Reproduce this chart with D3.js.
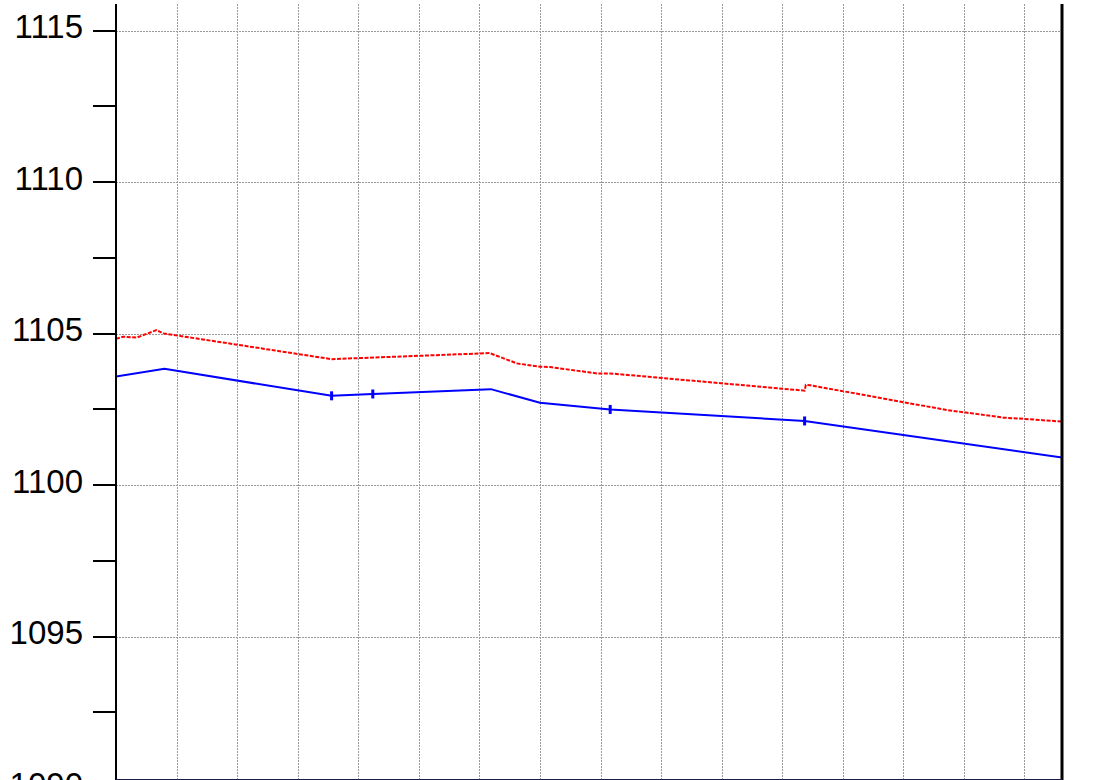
<!DOCTYPE html>
<html>
<head>
<meta charset="utf-8">
<script src="https://cdn.jsdelivr.net/npm/d3@7"></script>
<style>
  html, body { margin: 0; padding: 0; background: #fff; overflow: hidden; }
  svg { display: block; font-family: "Liberation Sans", Arial, sans-serif; }
</style>
</head>
<body>
<div id="chart"></div>
<script>
// values
const blueX = [0, 0.80, 3.56, 4.24, 6.19, 7.00, 8.16, 11.37, 15.62];
const blueY = [1103.59, 1103.84, 1102.95, 1103.01, 1103.17, 1102.72, 1102.50, 1102.12, 1100.91];
const blueMarks = [2, 3, 6, 7]; // indices with the small vertical bars

const redX = [0, 0.12, 0.34, 0.67, 0.78, 3.56, 6.17, 6.62, 7.00, 7.17, 7.94, 8.16, 11.37, 11.39, 11.46, 13.00, 13.72, 13.99, 14.65, 14.98, 15.62];
const redY = [1104.83, 1104.90, 1104.87, 1105.12, 1105.01, 1104.16, 1104.36, 1104.02, 1103.91, 1103.90, 1103.69, 1103.69, 1103.12, 1103.31, 1103.30, 1102.74, 1102.48, 1102.41, 1102.23, 1102.19, 1102.10];

const yMajor = [1090, 1095, 1100, 1105, 1110, 1115];
const yMinor = [1092.5, 1097.5, 1102.5, 1107.5, 1112.5];
const xGrid = d3.range(1, 16);

const width = 1113;
const height = 780;
const plot = {left: 116, right: 1062, top: 4, bottom: 780};

const svg = d3.select("#chart").append("svg")
  .attr("width", width)
  .attr("height", height);

const x = d3.scaleLinear([0, 15.62], [plot.left, plot.right]);
const y = d3.scaleLinear([1090, 1115], [788.2, 30.7]);

svg.append("defs").append("clipPath").attr("id", "clip")
  .append("rect")
  .attr("x", plot.left).attr("y", plot.top)
  .attr("width", plot.right - plot.left).attr("height", plot.bottom - plot.top);

// grid
const grid = svg.append("g").attr("clip-path", "url(#clip)")
  .attr("stroke", "#9a9a9a")
  .attr("stroke-width", 1)
  .attr("stroke-dasharray", "2,1");

grid.selectAll("line.v")
  .data(xGrid)
  .join("line")
  .attr("class", "v")
  .attr("x1", d => Math.round(x(d)) + 0.5).attr("x2", d => Math.round(x(d)) + 0.5)
  .attr("y1", plot.top).attr("y2", plot.bottom);

grid.selectAll("line.h")
  .data(yMajor)
  .join("line")
  .attr("class", "h")
  .attr("x1", plot.left).attr("x2", plot.right)
  .attr("y1", d => Math.round(y(d)) + 0.5).attr("y2", d => Math.round(y(d)) + 0.5);

// series
const lines = svg.append("g").attr("clip-path", "url(#clip)");

const redData = redX.map((d, i) => [d, redY[i]]);
const blueData = blueX.map((d, i) => [d, blueY[i]]);
const line = d3.line().x(d => x(d[0])).y(d => y(d[1]));

lines.append("path")
  .attr("d", line(redData))
  .attr("fill", "none")
  .attr("stroke", "#ff0000")
  .attr("stroke-width", 2)
  .attr("stroke-dasharray", "4,1.5");

lines.append("path")
  .attr("d", line(blueData))
  .attr("fill", "none")
  .attr("stroke", "#0000ff")
  .attr("stroke-width", 2);

lines.selectAll("rect.mark")
  .data(blueMarks)
  .join("rect")
  .attr("class", "mark")
  .attr("x", i => x(blueX[i]) - 1.5)
  .attr("y", i => y(blueY[i]) - 4.5)
  .attr("width", 3)
  .attr("height", 9)
  .attr("fill", "#0000ff");

// frame
svg.append("line")
  .attr("x1", plot.left).attr("x2", plot.left)
  .attr("y1", plot.top).attr("y2", plot.bottom)
  .attr("stroke", "#000").attr("stroke-width", 2);

svg.append("line")
  .attr("x1", plot.right).attr("x2", plot.right)
  .attr("y1", plot.top).attr("y2", plot.bottom)
  .attr("stroke", "#000").attr("stroke-width", 3);

svg.append("line")
  .attr("x1", plot.left).attr("x2", plot.right)
  .attr("y1", 779.5).attr("y2", 779.5)
  .attr("stroke", "#1c1c50").attr("stroke-width", 1);

// y axis ticks + labels
const axis = svg.append("g");

axis.selectAll("line.tick")
  .data(yMajor.concat(yMinor))
  .join("line")
  .attr("class", "tick")
  .attr("x1", plot.left - 23).attr("x2", plot.left)
  .attr("y1", d => Math.round(y(d)))
  .attr("y2", d => Math.round(y(d)))
  .attr("stroke", "#000").attr("stroke-width", 2);

axis.selectAll("text")
  .data(yMajor)
  .join("text")
  .attr("x", 83)
  .attr("y", d => y(d) + 7.3)
  .attr("text-anchor", "end")
  .attr("font-size", 33)
  .attr("fill", "#000")
  .text(d => d);
</script>
</body>
</html>
